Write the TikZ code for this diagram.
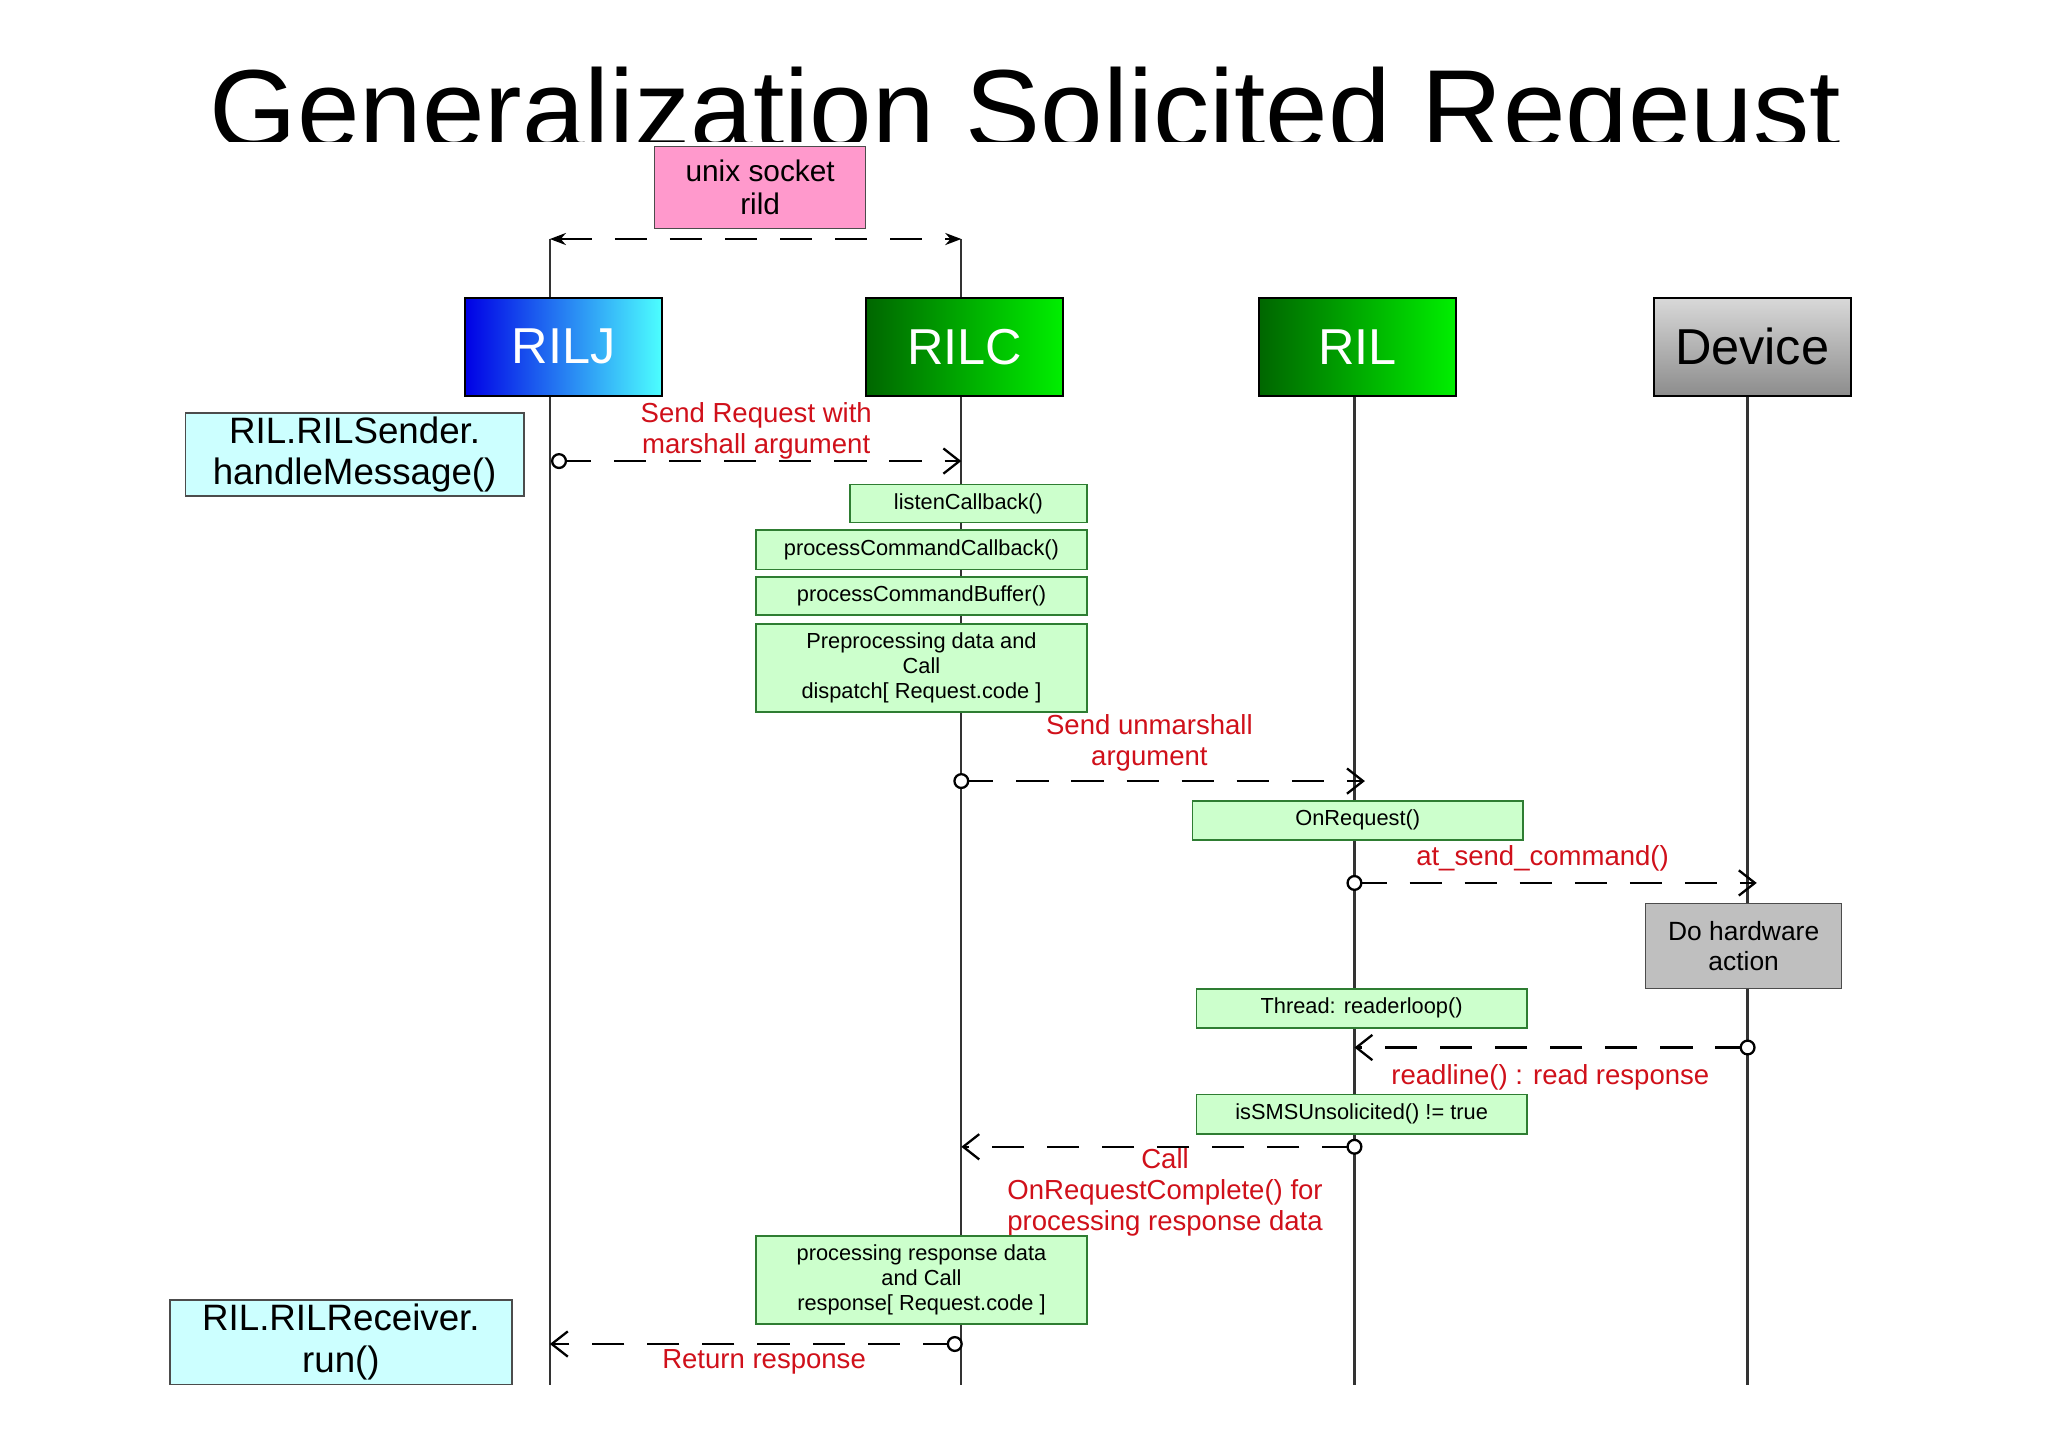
\documentclass[tikz,border=0pt]{standalone}
\usepackage{fontspec}
\setmainfont{Liberation Sans}
\usetikzlibrary{arrows.meta}
\definecolor{lblred}{HTML}{D0101A}
\definecolor{gfill}{HTML}{CCFFCC}
\definecolor{gdraw}{HTML}{2E7D32}
\definecolor{cfill}{HTML}{CCFFFF}
\definecolor{pfill}{HTML}{FF99CC}
\tikzset{
 gbox/.style={draw=gdraw,fill=gfill,line width=0.8pt,inner sep=1pt,align=center,font=\fontsize{9.5}{11}\selectfont},
 cbox/.style={draw=black!70,fill=cfill,line width=0.8pt,inner sep=1pt,align=center,font=\fontsize{16}{18}\selectfont},
 hdr/.style={draw=black,line width=0.8pt,minimum width=3.02cm,minimum height=1.5cm,font=\fontsize{22}{24}\selectfont},
 life/.style={line width=1pt,black!80},
 msg/.style={line width=1pt,dash pattern=on 14pt off 10pt,-{Straight Barb[length=7pt,width=11pt]}},
 lbl/.style={text=lblred,align=center,font=\fontsize{12}{13.5}\selectfont},
 dot/.style={circle,draw,line width=1pt,fill=white,inner sep=0pt,minimum size=6pt}
}
\begin{document}
\begin{tikzpicture}[x=0.02cm,y=-0.02cm]
\useasboundingbox (0,0) rectangle (1568,1108);
\fill[white] (0,0) rectangle (1568,1108);
\begin{scope}
\clip (0,0) rectangle (1568,108);
\node[anchor=base,font=\fontsize{49}{54}\selectfont] (title) at (785,114) {Generalization Solicited Reqeust};
\end{scope}
% headers
\node[hdr,left color=blue!90!black,right color=cyan!70,text=white] (rilj) at (431.5,265.5) {RILJ};
\node[hdr,left color=green!40!black,right color=green!90!black!60!green,text=white] (rilc) at (738.5,265.5) {RILC};
\node[hdr,left color=green!40!black,right color=green!90!black!60!green,text=white] (ril) at (1039.5,265.5) {RIL};
\node[hdr,top color=black!15,bottom color=black!45,text=black] (dev) at (1341.5,265.5) {Device};
\node[draw=black!70,fill=pfill,minimum width=3.24cm,minimum height=1.26cm,align=center,font=\fontsize{13}{14.5}\selectfont,inner sep=1pt] (unix) at (582,143.5) {unix socket\\rild};
% lifelines
\coordinate (jt) at (421,183); \coordinate (ct) at (736,183);
\coordinate (jb) at (421,1060); \coordinate (cb) at (736,1060);
\coordinate (rb) at (1037,1060); \coordinate (db) at (1338,1060);
\draw[life] (jt) -- (jb);
\draw[life] (ct) -- (cb);
\draw[life] (ril.south -| rb) -- (rb);
\draw[life] (dev.south -| db) -- (db);
\draw[line width=1pt,dash pattern=on 14pt off 10pt,{Stealth[length=7pt]}-{Stealth[length=7pt]}] (jt) -- (ct);
\node[hdr,left color=blue!90!black,right color=cyan!70,text=white] at (431.5,265.5) {RILJ};
\node[hdr,left color=green!40!black,right color=green!90!black!60!green,text=white] at (738.5,265.5) {RILC};
% side boxes
\node[cbox,minimum width=5.18cm,minimum height=1.28cm] (sender) at (271.5,348) {RIL.RILSender.\\handleMessage()};
\node[cbox,minimum width=5.24cm,minimum height=1.3cm] (recv) at (261,1027.5) {RIL.RILReceiver.\\run()};
% message 1
\coordinate (m1s) at (428,353); \coordinate (m1e) at (736,353);
\draw[msg] (m1s) -- (m1e);
\node[dot] at (m1s) {};
\node[lbl] (l1) at (579,330) {Send Request with\\marshall argument};
% green boxes
\node[gbox,minimum width=3.62cm,minimum height=0.58cm] (b1) at (741.5,385.5) {listenCallback()};
\node[gbox,minimum width=5.06cm,minimum height=0.6cm] (b2) at (705.5,421) {processCommandCallback()};
\node[gbox,minimum width=5.06cm,minimum height=0.58cm] (b3) at (705.5,456.5) {processCommandBuffer()};
\node[gbox,minimum width=5.06cm,minimum height=1.34cm] (b4) at (705.5,511.5) {Preprocessing data and\\Call\\dispatch[ Request.code ]};
% message 2
\coordinate (m2s) at (736,598); \coordinate (m2e) at (1045,598);
\draw[msg] (m2s) -- (m2e);
\node[dot] at (m2s) {};
\node[lbl] (l2) at (880,569) {Send unmarshall\\argument};
\node[gbox,minimum width=5.06cm,minimum height=0.6cm] (b5) at (1039.5,628) {OnRequest()};
% message 3
\coordinate (m3s) at (1037,676); \coordinate (m3e) at (1345,676);
\draw[msg] (m3s) -- (m3e);
\node[dot] at (m3s) {};
\node[lbl] (l3) at (1181,657) {at\_send\_command()};
\node[draw=black!70,fill=black!25,minimum width=3.0cm,minimum height=1.3cm,align=center,font=\fontsize{11.5}{13}\selectfont,inner sep=1pt] (hw) at (1335,724.5) {Do hardware\\action};
\node[gbox,minimum width=5.06cm,minimum height=0.6cm] (b6) at (1042.5,772) {Thread: readerloop()};
% message 4
\coordinate (m4s) at (1338,802); \coordinate (m4e) at (1037,802);
\draw[msg] (m4s) -- (m4e);
\node[dot] at (m4s) {};
\node[lbl] (l4) at (1187,825) {readline() : read response};
\node[gbox,minimum width=5.06cm,minimum height=0.6cm] (b7) at (1042.5,853) {isSMSUnsolicited() != true};
% message 5
\coordinate (m5s) at (1037,878); \coordinate (m5e) at (736,878);
\draw[msg] (m5s) -- (m5e);
\node[dot] at (m5s) {};
\node[lbl] (l5) at (892,913) {Call\\OnRequestComplete() for\\processing response data};
\node[gbox,minimum width=5.06cm,minimum height=1.36cm] (b8) at (705.5,980) {processing response data\\and Call\\response[ Request.code ]};
% message 6
\coordinate (m6s) at (731,1029); \coordinate (m6e) at (421,1029);
\draw[msg] (m6s) -- (m6e);
\node[dot] at (m6s) {};
\node[lbl] (l6) at (585,1043) {Return response};
\end{tikzpicture}
\end{document}
